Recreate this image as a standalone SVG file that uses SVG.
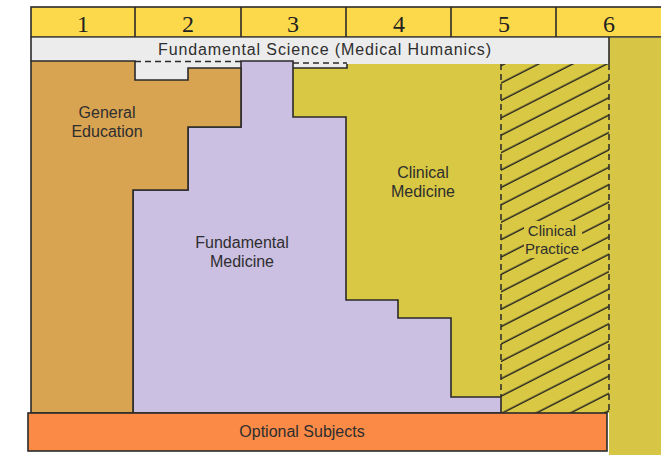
<svg xmlns="http://www.w3.org/2000/svg" width="661" height="455" viewBox="0 0 661 455">
<defs>
<style>
.ln{stroke:#2a2a2a;stroke-width:1.6;stroke-linejoin:miter}
.nf{fill:none}
.ds{stroke:#2a2a2a;stroke-width:1.5;fill:none;stroke-dasharray:6 4}
.num{font-family:"Liberation Serif","Times New Roman",serif;font-size:24px;fill:#222;text-anchor:middle}
.lbl{font-family:"Liberation Sans",Arial,sans-serif;font-size:16px;fill:#2e2e2e;text-anchor:middle}
.sm{font-size:15px}
.hdr{fill:#fcd94b}
.y6{fill:#d7c545}
.wb{fill:#ececec}
.cm{fill:#d9c843}
.fm{fill:#cbbfe2}
.ge{fill:#d9a452}
.os{fill:#fb8a47}
</style>
<pattern id="hatch" patternUnits="userSpaceOnUse" width="40" height="15.5" patternTransform="rotate(-27)">
<line x1="-2" y1="7" x2="42" y2="7" stroke="#222" stroke-width="1.6"/>
</pattern>
</defs>
<rect width="661" height="455" fill="#ffffff"/>

<g id="years">
<rect class="ln hdr" x="31" y="7" width="632" height="30"/>
<g class="ln nf">
<line x1="135" y1="7" x2="135" y2="37"/>
<line x1="241" y1="7" x2="241" y2="37"/>
<line x1="346" y1="7" x2="346" y2="37"/>
<line x1="451" y1="7" x2="451" y2="37"/>
<line x1="556" y1="7" x2="556" y2="37"/>
</g>
<text class="num" x="83" y="32">1</text>
<text class="num" x="188" y="32">2</text>
<text class="num" x="293" y="32">3</text>
<text class="num" x="399" y="32">4</text>
<text class="num" x="504" y="32">5</text>
<text class="num" x="609" y="32">6</text>
</g>

<g id="year6-column">
<rect class="y6" x="609" y="37.8" width="54" height="420"/>
</g>

<g id="fundamental-science">
<rect class="wb" x="31" y="37.8" width="578" height="44"/>
<line class="ln nf" x1="31" y1="37" x2="31" y2="61"/>
<line class="ln nf" x1="609" y1="37" x2="609" y2="64"/>
<text class="lbl" x="324.5" y="55" textLength="333" lengthAdjust="spacing">Fundamental Science (Medical Humanics)</text>
</g>

<g id="clinical-medicine">
<polygon class="cm" points="293,68 347,68 347,64 609,64 609,413 501,413 501,397 451,397 451,318 398,318 398,300 346,300 346,117 293,117"/>
<polyline class="ln nf" points="347,64 347,68 293,68"/>
<text class="lbl" x="423" y="178">Clinical</text>
<text class="lbl" x="423" y="197">Medicine</text>
</g>

<g id="clinical-practice">
<rect x="501" y="64" width="108" height="349" fill="url(#hatch)"/>
<rect class="cm" x="524" y="221" width="58" height="37"/>
<line class="ds" x1="501" y1="64" x2="501" y2="397"/>
<line class="ds" x1="609" y1="64" x2="609" y2="413"/>
<text class="lbl sm" x="552" y="236">Clinical</text>
<text class="lbl sm" x="552" y="254">Practice</text>
</g>

<g id="fundamental-medicine">
<polygon class="ln fm" points="241,61 293,61 293,117 346,117 346,300 398,300 398,318 451,318 451,397 501,397 501,413 133,413 133,190 188,190 188,127 241,127"/>
<text class="lbl" x="242" y="248">Fundamental</text>
<text class="lbl" x="242" y="267">Medicine</text>
</g>

<g id="general-education">
<polygon class="ln ge" points="31,61 135,61 135,80 188,80 188,68 241,68 241,127 188,127 188,190 133,190 133,413 31,413"/>
<text class="lbl" x="107" y="118">General</text>
<text class="lbl" x="107" y="137">Education</text>
</g>

<g id="connectors">
<line class="ds" x1="135" y1="61.5" x2="241" y2="61.5"/>
<line class="ds" x1="293" y1="63" x2="347" y2="63"/>
</g>

<g id="optional-subjects">
<rect class="ln os" x="28" y="413" width="579" height="38"/>
<text class="lbl" x="302" y="437">Optional Subjects</text>
</g>
</svg>
